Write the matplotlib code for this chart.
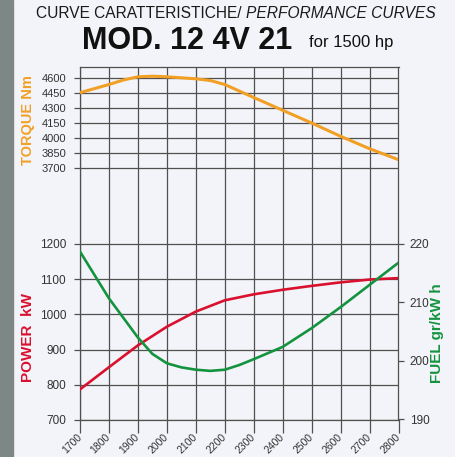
import matplotlib
matplotlib.use("Agg")
import matplotlib.pyplot as plt
from matplotlib.patches import Rectangle

plt.rcParams['font.family'] = ['Liberation Sans', 'DejaVu Sans']

# engine speed (rpm)
rpm = [1700, 1800, 1900, 2000, 2100, 2200, 2300, 2400, 2500, 2600, 2700, 2800]
# torque Nm, read on a finer rpm step around the peak
rpm_torque = [1700, 1800, 1850, 1900, 1950, 2000, 2100, 2150, 2200, 2250,
              2300, 2400, 2500, 2600, 2700, 2800]
torque = [4453, 4535, 4580, 4612, 4618, 4612, 4592, 4575, 4535, 4470,
          4405, 4277, 4150, 4017, 3893, 3783]
# power kW
power = [787, 850, 912, 965, 1008, 1040, 1057, 1070, 1081, 1091, 1099, 1103]
# fuel consumption gr/kW h, finer step around the minimum
rpm_fuel = [1700, 1800, 1900, 1950, 2000, 2050, 2100, 2150, 2200, 2250,
            2300, 2400, 2500, 2600, 2700, 2800]
fuel = [218.7, 210.7, 204.0, 201.2, 199.6, 198.9, 198.5, 198.3, 198.5, 199.3,
        200.3, 202.4, 205.6, 209.2, 213.0, 216.8]

torque_ticks = [3700, 3850, 4000, 4150, 4300, 4450, 4600]
power_ticks = [700, 800, 900, 1000, 1100, 1200]
fuel_ticks = [190, 200, 210, 220]

bg = '#f3f4f9'
grid_c = '#505050'
c_torque = '#f2a025'
c_power = '#d9102e'
c_fuel = '#14933f'

fig = plt.figure(figsize=(4.56, 4.57), dpi=100, facecolor=bg)
W, H = 456, 457
fig.patches.append(Rectangle((0, 0), 13 / W, 1, transform=fig.transFigure,
                             color='#7d8786', zorder=0))

# main axes (power), left 80px, right 398.5px, top 67px, bottom 420px
ax = fig.add_axes([80 / W, 1 - 420 / H, 318.5 / W, 353 / H])
ax.set_facecolor(bg)
ax.set_xlim(1700, 2800)
ax.set_ylim(700, 1702.8)
ax.set_xticks(rpm)
ax.set_xticklabels([str(r) for r in rpm], rotation=45, ha='right',
                   va='center', rotation_mode='anchor', fontsize=7.5,
                   color='#333333')
ax.set_yticks(power_ticks)
ax.set_yticklabels([str(p) for p in power_ticks], fontsize=8.5, color='#333333')
ax.tick_params(axis='x', length=9, width=0.9, color=grid_c, pad=2)
ax.tick_params(axis='y', length=4, width=0.9, color=grid_c, pad=6)
ax.grid(True, color=grid_c, linewidth=0.9)
for s in ax.spines.values():
    s.set_color(grid_c)
    s.set_linewidth(0.9)
ax.plot(rpm, power, color=c_power, linewidth=1.9, zorder=3)

# torque on its own scale, ticks on the left
ax_t = ax.twinx()
ax_t.set_ylim(1180, 4710)
ax_t.yaxis.tick_left()
ax_t.set_yticks(torque_ticks)
ax_t.set_yticklabels([str(t) for t in torque_ticks], fontsize=8, color='#333333')
ax_t.tick_params(axis='y', length=4, width=0.9, color=grid_c, pad=6)
ax_t.grid(True, axis='y', color=grid_c, linewidth=0.9)
for s in ax_t.spines.values():
    s.set_visible(False)
ax_t.plot(rpm_torque, torque, color=c_torque, linewidth=2.2)

# fuel on the right
ax_f = ax.twinx()
ax_f.set_ylim(189.9, 250.26)
ax_f.set_yticks(fuel_ticks)
ax_f.set_yticklabels([str(f) for f in fuel_ticks], fontsize=8.5, color='#333333')
ax_f.tick_params(axis='y', length=4, width=0.9, color=grid_c, pad=4)
for s in ax_f.spines.values():
    s.set_visible(False)
ax_f.plot(rpm_fuel, fuel, color=c_fuel, linewidth=1.9)

# axis titles
fig.text(28 / W, 1 - 120 / H, 'TORQUE Nm', rotation=90, color=c_torque,
         fontsize=10.5, fontweight='bold', ha='center', va='center')
fig.text(28 / W, 1 - 337 / H, 'POWER  kW', rotation=90, color=c_power,
         fontsize=11, fontweight='bold', ha='center', va='center')
fig.text(437 / W, 1 - 333 / H, 'FUEL gr/kW h', rotation=90, color=c_fuel,
         fontsize=11, fontweight='bold', ha='center', va='center')

# headings
fig.text(246 / W, 1 - 14 / H, 'CURVE CARATTERISTICHE/ ', fontsize=11.2,
         ha='right', va='center', color='#1a1a1a')
fig.text(246 / W, 1 - 14 / H, 'PERFORMANCE CURVES', fontsize=11.2,
         style='italic', ha='left', va='center', color='#1a1a1a')
fig.text(82 / W, 1 - 41 / H, 'MOD. 12 4V 21', fontsize=22, fontweight='bold',
         ha='left', va='center', color='#111111')
fig.text(309 / W, 1 - 43 / H, 'for 1500 hp', fontsize=12, ha='left',
         va='center', color='#111111')

fig.savefig('out.png', dpi=100, facecolor=bg)
